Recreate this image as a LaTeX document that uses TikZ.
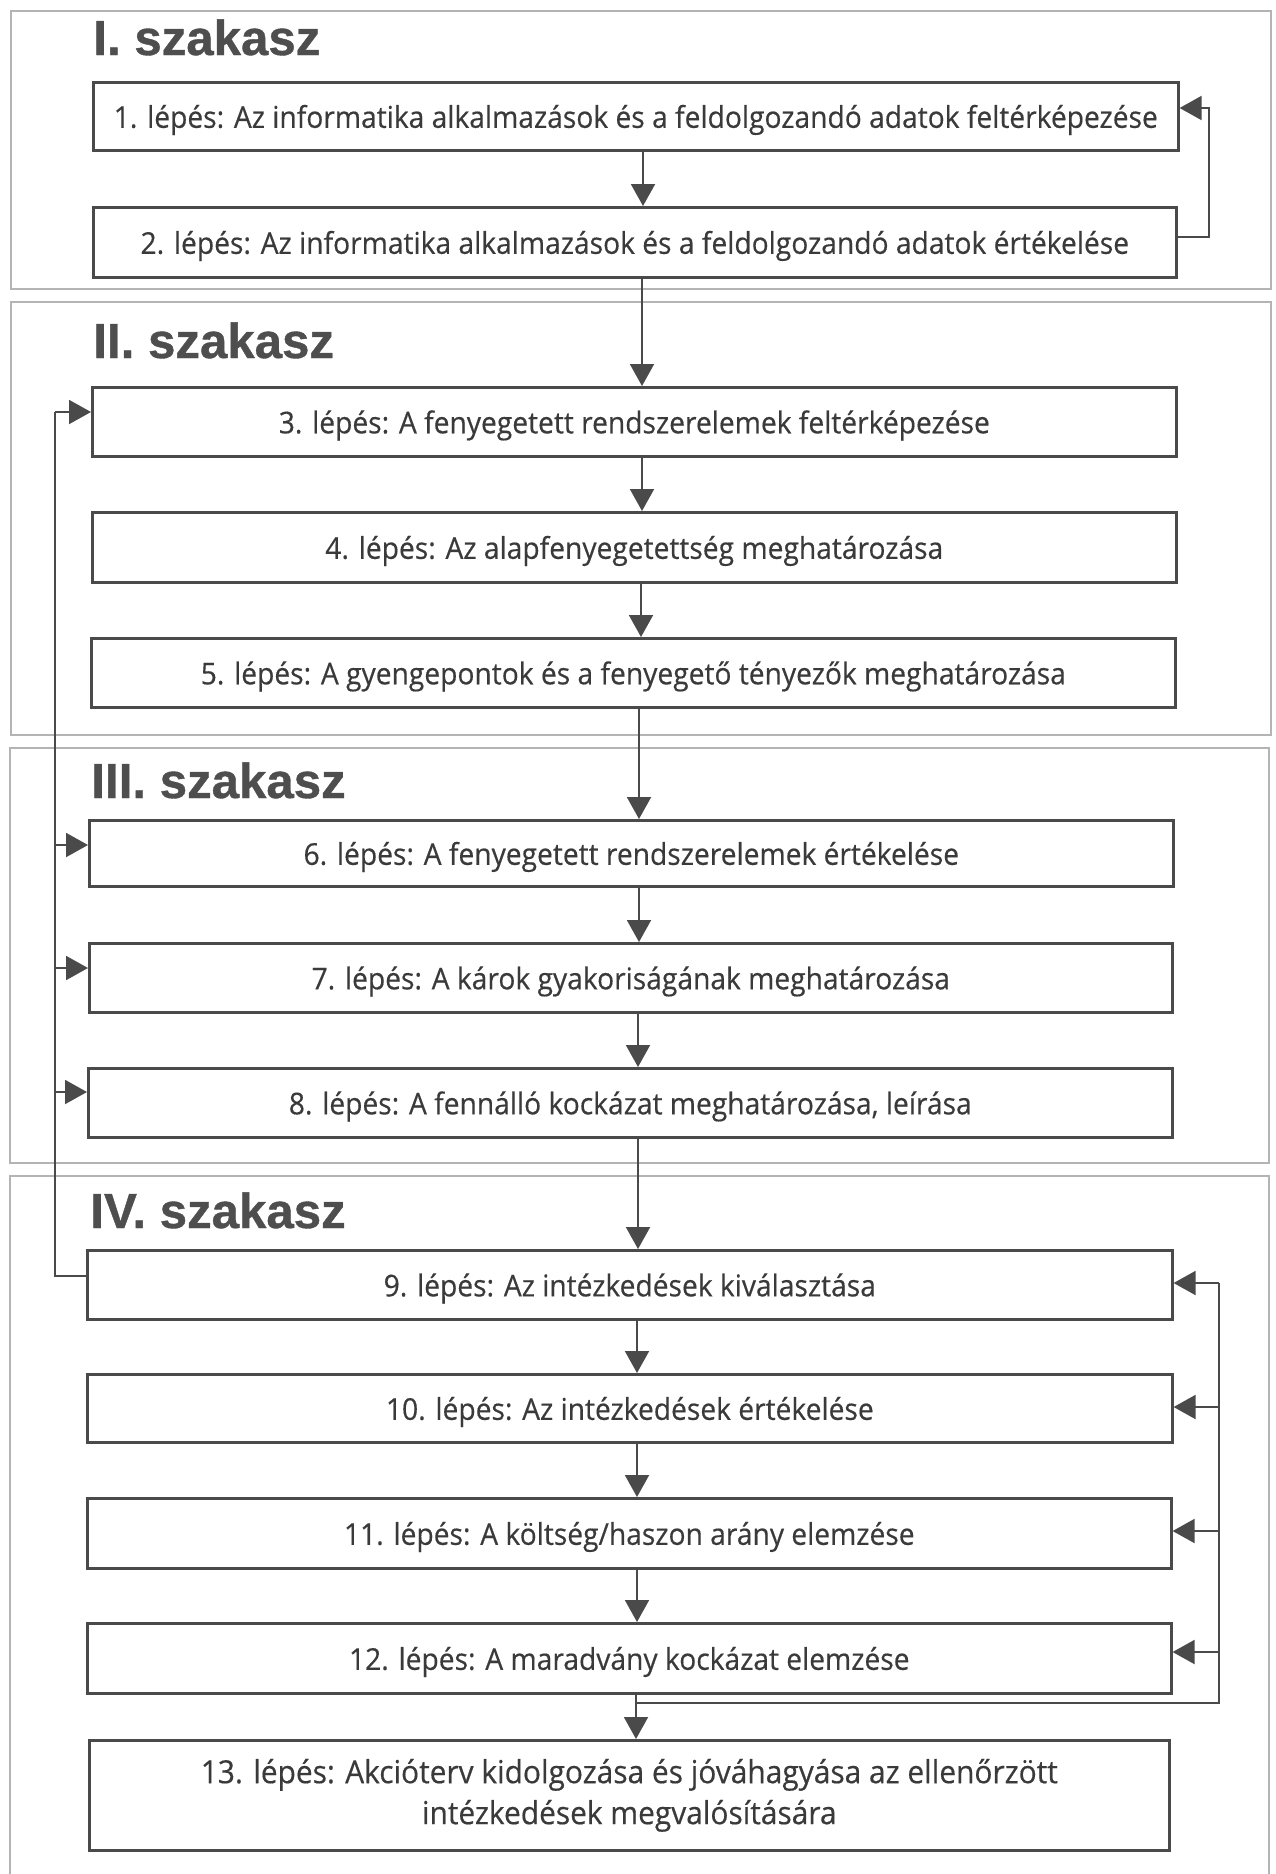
\documentclass[tikz,border=0pt]{standalone}
\usepackage{fontspec}
\setmainfont[FakeStretch=0.94,FakeBold=0.4]{Open Sans}
\newfontfamily\headfont[FakeBold=0.8]{Liberation Sans}
\usetikzlibrary{arrows.meta}

\definecolor{ink}{HTML}{3A3A3A}
\definecolor{wire}{HTML}{4A4A4A}
\definecolor{framegray}{HTML}{B4B4B4}

% [#1 extra options] #2 name, #3 left, #4 top, #5 right, #6 bottom, #7 text
\newcommand\stepnode[7][]{%
  \node[stepbox, anchor=north west,
        minimum width={((#5)-(#3))*0.5pt},
        minimum height={((#6)-(#4))*0.5pt}, #1] (#2) at (#3,#4) {#7};}

\begin{document}
\begin{tikzpicture}[x=0.5pt,y=-0.5pt,
  stepbox/.style={draw=wire, line width=1.3pt, inner sep=0pt, text=ink,
                  align=center, text height=11.5pt, text depth=0pt,
                  font=\fontsize{15}{20.5}\selectfont},
  flow/.style={draw=wire, line width=1pt, -{Triangle[length=11pt,width=12pt]}},
  loopline/.style={draw=wire, line width=1pt},
  phase/.style={draw=framegray, line width=0.6pt},
  phasetitle/.style={anchor=base west, inner sep=0pt, text=ink!90!white,
                     font=\headfont\bfseries\fontsize{24.6}{28}\selectfont},
]
\useasboundingbox (0,0) rectangle (1275,1874);

% phase frames
\draw[phase] (11,11) rectangle (1271,289);
\draw[phase] (11,302) rectangle (1271,735);
\draw[phase] (10,748) rectangle (1269,1163);
\draw[phase] (10,1880) -- (10,1176) -- (1269,1176) -- (1269,1880);

% phase titles
\node[phasetitle] (t1) at (93,55)   {I. szakasz};
\node[phasetitle] (t2) at (93,358)  {II. szakasz};
\node[phasetitle] (t3) at (91,798)  {III. szakasz};
\node[phasetitle] (t4) at (90,1228) {IV. szakasz};

% steps
\stepnode{b1}{92}{81}{1177}{149}{1. lépés: Az informatika alkalmazások és a feldolgozandó adatok feltérképezése}
\stepnode{b2}{92}{206}{1175}{276}{2. lépés: Az informatika alkalmazások és a feldolgozandó adatok értékelése}
\stepnode{b3}{91}{386}{1175}{455}{3. lépés: A fenyegetett rendszerelemek feltérképezése}
\stepnode{b4}{91}{511}{1175}{581}{4. lépés: Az alapfenyegetettség meghatározása}
\stepnode{b5}{90}{637}{1174}{706}{5. lépés: A gyengepontok és a fenyegető tényezők meghatározása}
\stepnode{b6}{88}{819}{1172}{885}{6. lépés: A fenyegetett rendszerelemek értékelése}
\stepnode{b7}{88}{942}{1171}{1011}{7. lépés: A károk gyakoriságának meghatározása}
\stepnode{b8}{87}{1067}{1171}{1136}{8. lépés: A fennálló kockázat meghatározása, leírása}
\stepnode{b9}{86}{1249}{1171}{1318}{9. lépés: Az intézkedések kiválasztása}
\stepnode{b10}{86}{1373}{1171}{1441}{10. lépés: Az intézkedések értékelése}
\stepnode{b11}{86}{1497}{1170}{1567}{11. lépés: A költség/haszon arány elemzése}
\stepnode{b12}{86}{1622}{1170}{1692}{12. lépés: A maradvány kockázat elemzése}
\stepnode[text height=, text depth=, font=\fontsize{15.9}{20.5}\selectfont]{b13}{88}{1739}{1168}{1849}{13. lépés: Akcióterv kidolgozása és jóváhagyása az ellenőrzött\\intézkedések megvalósítására}

% main flow
\draw[flow] (643,0 |- b1.south)  -- (643,0 |- b2.north);
\draw[flow] (642,0 |- b2.south)  -- (642,0 |- b3.north);
\draw[flow] (642,0 |- b3.south)  -- (642,0 |- b4.north);
\draw[flow] (641,0 |- b4.south)  -- (641,0 |- b5.north);
\draw[flow] (639,0 |- b5.south)  -- (639,0 |- b6.north);
\draw[flow] (639,0 |- b6.south)  -- (639,0 |- b7.north);
\draw[flow] (638,0 |- b7.south)  -- (638,0 |- b8.north);
\draw[flow] (638,0 |- b8.south)  -- (638,0 |- b9.north);
\draw[flow] (637,0 |- b9.south)  -- (637,0 |- b10.north);
\draw[flow] (637,0 |- b10.south) -- (637,0 |- b11.north);
\draw[flow] (637,0 |- b11.south) -- (637,0 |- b12.north);
\draw[flow] (636,0 |- b12.south) -- (636,0 |- b13.north);

% feedback of phase I
\coordinate (rtop) at (1209,0);
\draw[flow] (b2.east |- 0,237) -- (rtop |- 0,237) -- (rtop |- 0,108) -- (b1.east |- 0,108);

% feedback from step 9 to steps 3, 6, 7, 8
\coordinate (lcol) at (55,0);
\draw[loopline] (b9.west |- 0,1276) -- (lcol |- 0,1276) -- (lcol |- 0,412);
\draw[flow] (lcol |- 0,412)  -- (b3.west |- 0,412);
\draw[flow] (lcol |- 0,845)  -- (b6.west |- 0,845);
\draw[flow] (lcol |- 0,968)  -- (b7.west |- 0,968);
\draw[flow] (lcol |- 0,1092) -- (b8.west |- 0,1092);

% feedback of phase IV
\coordinate (rcol) at (1219,0);
\coordinate (split) at (636,1703);
\draw[loopline] (split) -- (rcol |- split) -- (rcol |- 0,1283);
\draw[flow] (rcol |- 0,1283) -- (b9.east |- 0,1283);
\draw[flow] (rcol |- 0,1407) -- (b10.east |- 0,1407);
\draw[flow] (rcol |- 0,1531) -- (b11.east |- 0,1531);
\draw[flow] (rcol |- 0,1652) -- (b12.east |- 0,1652);
\end{tikzpicture}
\end{document}
